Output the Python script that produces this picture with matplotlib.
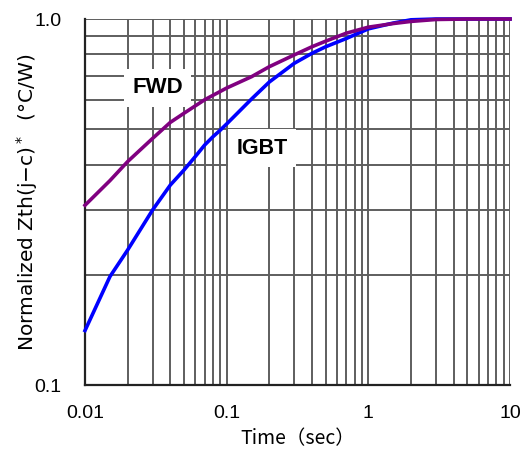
import numpy as np
import matplotlib.pyplot as plt
from matplotlib.ticker import FixedLocator, NullFormatter

# valores (Zth normalizado)
t_fwd = [0.01, 0.015, 0.02, 0.03, 0.04, 0.05, 0.07, 0.1, 0.15, 0.2, 0.3, 0.4, 0.5, 0.7, 1, 1.5, 2, 3, 5, 10]
z_fwd = [0.31, 0.362, 0.408, 0.472, 0.522, 0.553, 0.602, 0.648, 0.696, 0.741, 0.798, 0.840, 0.870, 0.915, 0.95, 0.972, 0.985, 0.997, 1.0, 1.0]

t_igbt = [0.01, 0.015, 0.02, 0.03, 0.04, 0.05, 0.06, 0.07, 0.08, 0.09, 0.1, 0.15, 0.2, 0.3, 0.4, 0.5, 0.7, 1, 1.5, 2, 3, 5, 10]
z_igbt = [0.141, 0.198, 0.234, 0.301, 0.352, 0.387, 0.421, 0.453, 0.477, 0.497, 0.517, 0.605, 0.673, 0.757, 0.806, 0.840, 0.885, 0.94, 0.975, 0.995, 1.0, 1.0, 1.0]

x_ticks = [0.01, 0.1, 1, 10]
x_ticklabels = ['0.01', '0.1', '1', '10']
y_ticks = [0.1, 1.0]
y_ticklabels = ['0.1', '1.0']

fig = plt.figure(figsize=(5.28, 4.58), dpi=100)
ax = fig.add_axes([0.161, 0.159, 0.805, 0.7995])
ax.set_xscale('log')
ax.set_yscale('log')
ax.set_xlim(0.01, 10)
ax.set_ylim(0.1, 1.0)

# grade em todas as subdivisoes
ax.xaxis.set_minor_locator(FixedLocator([m * 10.0**e for e in (-2, -1, 0) for m in range(2, 10)]))
ax.yaxis.set_minor_locator(FixedLocator([m * 0.1 for m in range(2, 10)]))
ax.xaxis.set_minor_formatter(NullFormatter())
ax.yaxis.set_minor_formatter(NullFormatter())
ax.grid(True, which='both', color='#5e5e5e', linewidth=1.4, zorder=1)
ax.set_axisbelow(True)

ax.set_xticks(x_ticks)
ax.set_xticklabels(x_ticklabels, fontfamily='Liberation Sans', fontsize=14)
ax.set_yticks(y_ticks)
ax.set_yticklabels(y_ticklabels, fontfamily='Liberation Sans', fontsize=14)
ax.tick_params(which='both', length=0)
ax.tick_params(axis='x', pad=14)
ax.tick_params(axis='y', pad=17)

for s in ['top', 'right']:
    ax.spines[s].set_visible(False)
for s in ['left', 'bottom']:
    ax.spines[s].set_color('#222222')
    ax.spines[s].set_linewidth(1.6)

ax.plot(t_fwd, z_fwd, color='#800080', linewidth=2.6, zorder=4, clip_on=False)
ax.plot(t_igbt, z_igbt, color='#0000ff', linewidth=2.6, zorder=3, clip_on=False)

box = dict(facecolor='white', edgecolor='none', pad=6)
ax.text(0.0325, 0.649, 'FWD', fontsize=16, fontweight='bold', fontfamily='Liberation Sans',
        ha='center', va='center', bbox=box, zorder=2)
ax.text(0.177, 0.444, 'IGBT', fontsize=15.5, fontweight='bold', fontfamily='Liberation Sans',
        ha='center', va='center', bbox=box, zorder=2)

ax.set_xlabel('Time（sec）', fontfamily=['Noto Sans CJK JP', 'DejaVu Sans'], fontsize=14, labelpad=5)
ax.set_ylabel('Normalized Zth(j\u2212c)$^*$  (°C/W)', fontfamily='DejaVu Sans',
              fontsize=14.5, labelpad=-4)

fig.savefig('out.png', dpi=100)
